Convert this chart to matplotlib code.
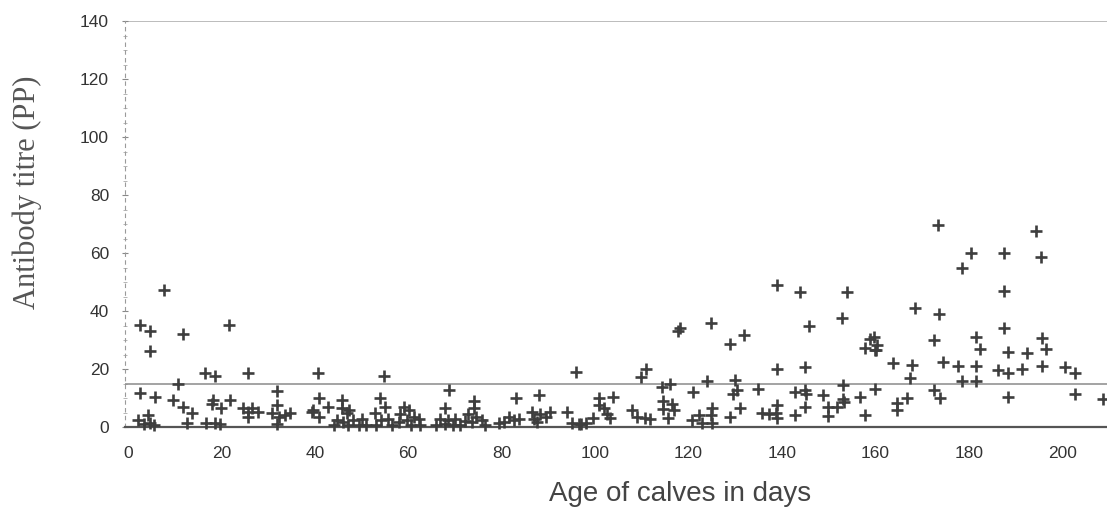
import numpy as np
import matplotlib
matplotlib.use("Agg")
from matplotlib import pyplot as plt
from matplotlib.ticker import MultipleLocator

# age of calf (days) and antibody titre (PP)
age = [
    7.8, 2.6, 4.7, 4.7, 11.7, 21.7, 16.5, 18.6, 25.7, 10.6,
    2.6, 5.7, 9.7, 11.8, 13.8, 2.2, 4.3, 4.7, 3.5, 5.5,
    12.6, 16.8, 18.6, 19.7, 18.2, 17.9, 20.0, 21.9, 24.7, 25.7,
    26.5, 27.9, 25.7, 31.8, 31.8, 30.8, 32.3, 33.6, 34.7, 31.8,
    39.4, 40.6, 40.8, 39.7, 40.8, 42.9, 45.8, 45.8, 46.9, 47.4,
    44.8, 46.1, 48.1, 50.1, 54.9, 54.0, 55.1, 52.9, 54.2, 55.7,
    59.0, 60.1, 58.3, 59.7, 61.2, 62.3, 58.0, 68.8, 67.9, 66.9,
    68.6, 70.0, 67.9, 74.0, 74.0, 72.8, 74.6, 72.2, 73.7, 75.8,
    79.5, 44.0, 47.0, 49.5, 51.0, 53.0, 56.5, 60.5, 62.5, 66.0,
    69.5, 71.0, 76.5,
    96.0, 109.9, 111.0, 117.8, 83.0, 88.0, 81.5, 82.6, 83.7, 80.4,
    86.5, 87.0, 88.3, 89.4, 90.4, 87.6, 94.0, 95.0, 96.5, 98.0,
    97.0, 100.8, 100.8, 103.9, 101.9, 102.5, 99.6, 103.1, 107.9, 108.9,
    110.7, 111.8, 114.3, 116.1, 114.6, 116.4, 114.6, 116.8, 115.7,
    118.1, 124.8, 128.9, 131.9, 138.9, 143.8, 154.0, 145.9, 152.8, 139.0,
    145.0, 158.9, 157.8, 159.9, 159.7, 160.4, 160.2, 123.9, 130.0, 130.3,
    129.6, 121.0, 134.8, 142.9, 145.0, 145.2, 148.9, 153.1, 153.1, 156.8,
    159.9, 131.0, 125.0, 124.8, 122.2, 128.9, 135.7, 139.0, 138.7, 137.2,
    139.0, 142.9, 145.0, 149.9, 149.9, 151.8, 153.2, 157.8, 120.8, 122.9,
    125.0,
    173.5, 194.4, 180.4, 187.5, 195.4, 178.5, 187.5, 168.5, 173.6, 187.5,
    172.6, 181.5, 182.5, 188.5, 192.4, 195.6, 196.5, 163.7, 167.9, 167.5,
    174.5, 177.7, 181.5, 178.5, 181.5, 186.3, 188.5, 191.4, 195.6, 200.6,
    202.7, 166.7, 164.6, 164.6, 172.6, 173.9, 188.5, 202.7, 208.8,
]
titre = [
    47.2, 35.2, 33.2, 26.3, 32.0, 35.2, 18.5, 17.7, 18.5, 14.8,
    11.6, 10.5, 9.3, 6.8, 4.7, 2.4, 4.1, 1.5, 1.0, 0.8,
    1.5, 1.5, 1.5, 1.0, 9.3, 8.0, 6.4, 9.3, 6.4, 5.3,
    6.4, 5.3, 3.5, 12.5, 7.6, 4.7, 3.5, 4.1, 4.7, 1.2,
    5.3, 18.6, 9.9, 5.9, 3.6, 6.8, 9.3, 6.6, 4.7, 6.0,
    2.4, 1.8, 2.4, 2.6, 17.6, 9.9, 6.8, 4.9, 2.4, 2.6,
    6.8, 6.0, 4.5, 2.4, 3.4, 2.6, 1.8, 12.8, 6.4, 2.8,
    2.4, 2.8, 1.2, 9.1, 6.4, 4.5, 3.4, 2.1, 1.8, 2.4,
    1.5, 0.8, 0.8, 0.8, 0.8, 0.8, 0.8, 0.8, 0.8, 0.8,
    0.8, 0.8, 0.8,
    18.9, 17.3, 20.0, 33.0, 9.9, 11.0, 3.3, 2.4, 2.8, 1.8,
    5.3, 2.8, 4.6, 3.3, 5.3, 1.8, 5.3, 1.5, 1.2, 1.5,
    1.0, 9.9, 7.6, 10.5, 6.4, 4.6, 3.0, 3.0, 5.9, 3.3,
    3.0, 2.6, 13.9, 15.0, 9.0, 8.0, 6.1, 5.7, 3.2,
    34.0, 36.0, 28.6, 31.7, 49.0, 46.7, 46.7, 34.8, 37.7, 19.9,
    20.8, 30.2, 27.1, 26.5, 31.1, 28.4, 26.5, 16.0, 16.2, 12.8,
    11.3, 12.2, 13.0, 12.2, 12.8, 11.3, 11.0, 14.5, 9.7, 10.5,
    13.0, 6.4, 6.4, 4.1, 4.1, 3.6, 4.7, 7.6, 4.7, 4.5,
    3.0, 4.1, 7.0, 7.0, 3.9, 7.0, 8.6, 4.1, 2.3, 1.5,
    1.5,
    69.7, 67.7, 59.9, 59.9, 58.7, 54.7, 47.0, 40.9, 39.0, 34.0,
    30.0, 31.1, 26.8, 26.0, 25.6, 30.6, 26.8, 22.2, 21.4, 16.8,
    22.5, 21.0, 21.0, 16.0, 16.0, 19.7, 18.5, 19.9, 21.0, 20.6,
    18.5, 9.9, 8.2, 5.9, 12.8, 9.9, 10.2, 11.4, 9.5,
]
cutoff = 15
yticks = [0, 20, 40, 60, 80, 100, 120, 140]
xticks = [0, 20, 40, 60, 80, 100, 120, 140, 160, 180, 200]

fig = plt.figure(figsize=(11.07, 5.13), dpi=100)
ax = fig.add_axes([125 / 1107, 1 - 427 / 513, 1 - 125 / 1107, (427 - 21) / 513])

ax.plot(age, titre, linestyle="none", marker="+", markersize=9,
        markeredgewidth=1.9, color="#3e3e3e", clip_on=False, zorder=3)

# cut-off line and top line
ax.axhline(cutoff, color="#8a8a8a", lw=1.1, zorder=2)
ax.axhline(140, color="#b0b0b0", lw=1.2, zorder=1)

ax.set_xlim(-0.64, 209.6)
ax.set_ylim(0, 140)

for side in ["top", "right"]:
    ax.spines[side].set_visible(False)
ax.spines["bottom"].set_color("#555555")
ax.spines["bottom"].set_linewidth(1.6)
ax.spines["left"].set_color("#9a9a9a")
ax.spines["left"].set_linewidth(0.8)
ax.spines["left"].set_linestyle((0, (3, 4)))

ax.set_xticks(xticks)
ax.set_yticks(yticks)
ax.yaxis.set_minor_locator(MultipleLocator(5))
ax.tick_params(axis="x", length=0, pad=14, labelsize=12.5, labelcolor="#333333")
ax.tick_params(axis="y", which="major", direction="inout", length=5, width=0.8,
               color="#888888", pad=9, labelsize=12.5, labelcolor="#333333")
ax.tick_params(axis="y", which="minor", direction="inout", length=3, width=0.6,
               color="#aaaaaa")
for lab in ax.get_xticklabels() + ax.get_yticklabels():
    lab.set_family(["Liberation Sans", "DejaVu Sans"])

fig.text(680 / 1107, 1 - 494 / 513, "Age of calves in days", ha="center", va="center",
         fontsize=20, color="#444444", family=["Liberation Sans", "DejaVu Sans"])
fig.text(27 / 1107, 1 - 192 / 513, "Antibody titre (PP)", ha="center", va="center",
         rotation=90, fontsize=22, color="#555555", family=["Liberation Serif", "DejaVu Serif"])

fig.savefig("out.png", dpi=100)
